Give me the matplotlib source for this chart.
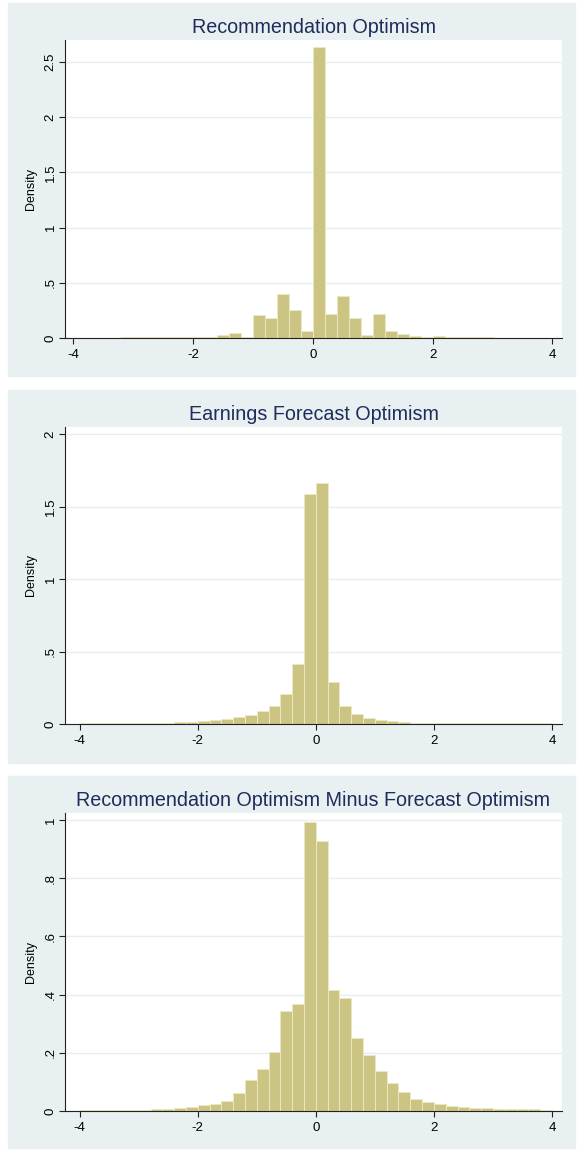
"""Three Stata-style density histograms stacked vertically
"""
import numpy as np
import matplotlib
matplotlib.use('agg')
import matplotlib.pyplot as plt
from matplotlib.patches import Rectangle

plt.rcParams['font.family'] = ['Liberation Sans', 'DejaVu Sans']

# bin width 0.2, values are densities
rec_start = -3.2
rec_dens = [0.006, 0.006, 0.006, 0.006, 0.006, 0.007,
            0.012, 0.012, 0.024, 0.047, 0.012, 0.21, 0.18, 0.40, 0.25, 0.06,
            2.64, 0.22, 0.38, 0.18, 0.028, 0.22, 0.062, 0.034, 0.015, 0.008,
            0.018, 0.007, 0.006, 0.006, 0.006]

fc_start = -4.0
fc_dens = [0.004, 0.004, 0.005, 0.005, 0.006, 0.007, 0.008, 0.009, 0.011, 0.015,
           0.02, 0.026, 0.035, 0.047, 0.064, 0.088, 0.124, 0.205, 0.412, 1.59,
           1.665, 0.288, 0.124, 0.068, 0.044, 0.031, 0.018, 0.012, 0.010, 0.009,
           0.008, 0.007, 0.006, 0.005, 0.005, 0.004, 0.004, 0.004, 0.004, 0.004]

diff_start = -4.0
diff_dens = [0.004, 0.004, 0.004, 0.004, 0.005, 0.005, 0.006, 0.007, 0.009, 0.014,
             0.021, 0.025, 0.035, 0.061, 0.107, 0.144, 0.203, 0.342, 0.369, 0.994,
             0.929, 0.415, 0.388, 0.252, 0.194, 0.139, 0.096, 0.064, 0.041, 0.031,
             0.023, 0.017, 0.013, 0.011, 0.009, 0.008, 0.007, 0.006, 0.006, 0.005]

titles = ['Recommendation Optimism',
          'Earnings Forecast Optimism',
          'Recommendation Optimism Minus Forecast Optimism']

xticks = [-4, -2, 0, 2, 4]
yticks_rec = [0, 0.5, 1, 1.5, 2, 2.5]
yticks_fc = [0, 0.5, 1, 1.5, 2]
yticks_diff = [0, 0.2, 0.4, 0.6, 0.8, 1]

def stata_lab(v):
    s = ('%g' % v)
    if s.startswith('0.'):
        s = s[1:]
    return s

W, H = 578, 1150
bg_col = '#e9f0f2'
bar_col = '#cbc482'
edge_col = '#ece8c4'
title_col = '#1f2c5c'

fig = plt.figure(figsize=[W/100, H/100], dpi=100)
fig.patch.set_facecolor('white')

# (bg box, axes box) in pixels: x0, y0, x1, y1 from top-left
layout = [((8, 3, 575, 376), (65, 40, 562, 338), (-4.14, 4.16), 2.70),
          ((8, 390, 575, 763), (65, 427, 562, 724), (-4.25, 4.17), 2.05),
          ((8, 776, 575, 1148), (65, 813, 562, 1111), (-4.25, 4.17), 1.024)]

data = [(rec_start, rec_dens, yticks_rec),
        (fc_start, fc_dens, yticks_fc),
        (diff_start, diff_dens, yticks_diff)]

for i in range(3):
    bg, box, xl, ytop = layout[i]
    start, dens, yt = data[i]
    fig.patches.append(Rectangle((bg[0]/W, 1-bg[3]/H), (bg[2]-bg[0])/W, (bg[3]-bg[1])/H,
                                 transform=fig.transFigure, color=bg_col, zorder=-10))
    ax = fig.add_axes([box[0]/W, 1-box[3]/H, (box[2]-box[0])/W, (box[3]-box[1])/H])
    ax.set_facecolor('white')
    left = start + 0.2*np.arange(len(dens))
    ax.bar(left, dens, width=0.2, align='edge', color=bar_col,
           edgecolor=edge_col, linewidth=0.7)
    ax.set_xlim(xl)
    ax.set_ylim(0, ytop)
    ax.set_xticks(xticks)
    ax.set_xticklabels([str(t) for t in xticks], fontsize=9.5)
    ax.set_yticks(yt)
    ax.set_yticklabels([stata_lab(t) for t in yt], fontsize=9.5, rotation=90, va='center')
    ax.yaxis.grid(True, color='#e6eef0', lw=1)
    ax.set_axisbelow(True)
    for s in ['top', 'right']:
        ax.spines[s].set_visible(False)
    for s in ['left', 'bottom']:
        ax.spines[s].set_color('#222222')
        ax.spines[s].set_linewidth(0.8)
    ax.tick_params(direction='out', length=4, width=0.8, color='#222222')
    ax.tick_params(axis='x', pad=4)
    ax.tick_params(axis='y', pad=2)
    ax.set_ylabel('Density', fontsize=9)
    ax.yaxis.set_label_coords(-0.056, 0.5)
    ax.set_title(titles[i], fontsize=14.2, color=title_col, pad=5)

plt.savefig('out.png', dpi=100)
